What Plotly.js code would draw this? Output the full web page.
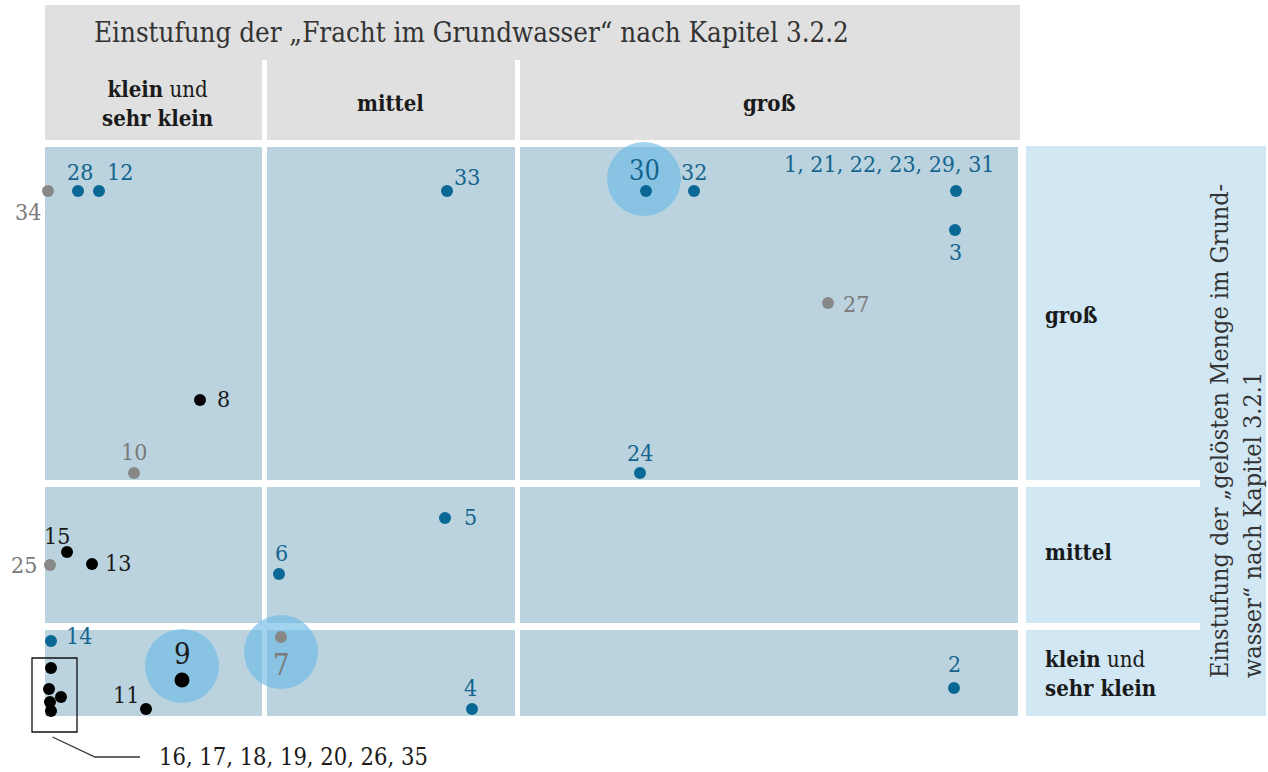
<!DOCTYPE html>
<html><head><meta charset="utf-8">
<script src="https://cdn.plot.ly/plotly-3.0.1.min.js"></script>
<style>html,body{margin:0;padding:0;background:#fff}</style>
</head><body><div id="chart" style="width:1268px;height:772px"></div>
<script>
// ---------- DATA ----------
const headerTitle = 'Einstufung der „Fracht im Grundwasser“ nach Kapitel 3.2.2';
const sideTitle = 'Einstufung der „gelösten Menge im Grund-<br>wasser“ nach Kapitel 3.2.1';
const columnCategories = ['<b>klein</b> und<br><b>sehr klein</b>', '<b>mittel</b>', '<b>groß</b>'];
const rowCategories = ['<b>groß</b>', '<b>mittel</b>', '<b>klein</b> und<br><b>sehr klein</b>'];

// point labels, x = "Fracht" score, y = "gelöste Menge" score (chart units, y grows downward)
const pointLabels = ['34','28','12','33','30','32','1, 21, 22, 23, 29, 31','3','27','8','10','24',
                     '5','15','13','25','6','14','9','7','11','4','2'];
const frachtScore = [48, 78, 99, 447, 646, 694, 956, 955, 828, 200, 134, 640,
                     445, 67, 92, 50, 279, 51, 182, 281, 146, 472, 954];
const mengeScore  = [191, 191, 191, 191, 191, 191, 191, 230, 303, 400, 473, 473,
                     518, 552, 564, 565, 574, 641, 680, 637, 709, 709, 688];
const pointGroup  = ['grau','blau','blau','blau','blau','blau','blau','blau','grau','schwarz','grau','blau',
                     'blau','schwarz','schwarz','grau','blau','blau','schwarz','grau','schwarz','blau','blau'];

// cluster of points 16, 17, 18, 19, 20, 26, 35
const clusterLabel = '16, 17, 18, 19, 20, 26, 35';
const clusterFracht = [51, 49, 61, 50, 51];
const clusterMenge  = [668, 689, 697, 702, 711];

const highlighted = ['30', '9', '7'];

// ---------- STYLE ----------
const SERIF = '"DejaVu Serif Condensed", "Liberation Serif", serif';
const groupColor = {blau: '#0a6894', grau: '#888888', schwarz: '#000000'};
const labelColor = {blau: '#14648d', grau: '#7a7a7a', schwarz: '#1a1a1a'};
// label offsets in pixels [dx, dy] (dy downward)
const labelOffset = {
  '34':[-20,21],'28':[2,-19],'12':[21,-19],'33':[20,-14],'30':[-2,-21],'32':[0,-19],
  '1, 21, 22, 23, 29, 31':[-67,-27],'3':[0,22],'27':[28,1],'8':[23,-1],'10':[0,-21],'24':[0,-20],
  '5':[25,-1],'15':[-10,-16],'13':[26,-1],'25':[-26,0],'6':[2,-21],'14':[28,-5],'9':[0,-26],
  '7':[0,28],'11':[-20,-14],'4':[-2,-21],'2':[0,-24]
};
const haloOffset = {'30':[-2,-12],'9':[0,-14],'7':[0,15]};
const bigLabel = {'30':27,'9':29,'7':29};

// ---------- TRACES ----------
const haloX = [], haloY = [];
highlighted.forEach(h => {
  const i = pointLabels.indexOf(h);
  haloX.push(frachtScore[i] + haloOffset[h][0]);
  haloY.push(mengeScore[i] + haloOffset[h][1]);
});
const traces = [];
traces.push({type:'scatter', mode:'markers', x:haloX, y:haloY, hoverinfo:'skip',
  marker:{size:74, color:'rgba(105,185,230,0.62)', opacity:1, line:{width:0}}});
['blau','grau','schwarz'].forEach(g => {
  const xs=[], ys=[], sz=[];
  pointLabels.forEach((l,i) => { if (pointGroup[i]===g){ xs.push(frachtScore[i]); ys.push(mengeScore[i]); sz.push(l==='9'?15:12);} });
  if (g==='schwarz') { clusterFracht.forEach((v,i)=>{xs.push(v); ys.push(clusterMenge[i]); sz.push(12);}); }
  traces.push({type:'scatter', mode:'markers', x:xs, y:ys, hoverinfo:'skip',
    marker:{size:sz, color:groupColor[g], opacity:1, line:{width:0}}});
});

// ---------- ANNOTATIONS ----------
const ann = [];
pointLabels.forEach((l,i) => {
  const off = labelOffset[l];
  ann.push({x:frachtScore[i], y:mengeScore[i], xref:'x', yref:'y', text:l, showarrow:false,
    xshift:off[0], yshift:-off[1], xanchor:'center', yanchor:'middle',
    font:{family:SERIF, size: bigLabel[l] || 23, color: labelColor[pointGroup[i]]}});
});
ann.push({x:92, y:32, xref:'x', yref:'y', text:headerTitle, showarrow:false, xanchor:'left', yanchor:'middle',
  font:{family:SERIF, size:27.5, color:'#333'}});
const colCenters = [157, 390, 769];
columnCategories.forEach((c,i)=> ann.push({x:colCenters[i], y:103, xref:'x', yref:'y', text:c, showarrow:false,
  xanchor:'center', yanchor:'middle', font:{family:SERIF, size:22, color:'#1a1a1a'}}));
const rowCenters = [315, 552, 673];
rowCategories.forEach((c,i)=> ann.push({x:1043, y:rowCenters[i], xref:'x', yref:'y', text:c, showarrow:false,
  xanchor:'left', yanchor:'middle', align:'left', font:{family:SERIF, size:22, color:'#1a1a1a'}}));
ann.push({x:1236, y:431, xref:'x', yref:'y', text:sideTitle, showarrow:false, textangle:-90, align:'left',
  xanchor:'center', yanchor:'middle', font:{family:SERIF, size:25, color:'#333'}});
ann.push({x:157, y:757, xref:'x', yref:'y', text:clusterLabel, showarrow:false, xanchor:'left', yanchor:'middle',
  font:{family:SERIF, size:23.5, color:'#1a1a1a'}});

// ---------- SHAPES ----------
const cx0 = Math.min(...clusterFracht) - 17, cx1 = Math.max(...clusterFracht) + 16;
const cy0 = Math.min(...clusterMenge) - 10, cy1 = Math.max(...clusterMenge) + 21;
const shapes = [
  {type:'rect', x0:45, x1:1020, y0:5, y1:140, fillcolor:'#e0e0e0', line:{width:0}, layer:'below'},
  {type:'rect', x0:45, x1:1018, y0:147, y1:716, fillcolor:'#bad3df', line:{width:0}, layer:'below'},
  {type:'rect', x0:1026, x1:1266, y0:146, y1:716, fillcolor:'#d1e7f3', line:{width:0}, layer:'below'},
  {type:'rect', x0:262, x1:267, y0:60, y1:718, fillcolor:'#ffffff', line:{width:0}, layer:'below'},
  {type:'rect', x0:515, x1:520, y0:60, y1:718, fillcolor:'#ffffff', line:{width:0}, layer:'below'},
  {type:'rect', x0:45, x1:1200, y0:480, y1:487, fillcolor:'#ffffff', line:{width:0}, layer:'below'},
  {type:'rect', x0:45, x1:1200, y0:623, y1:630, fillcolor:'#ffffff', line:{width:0}, layer:'below'},
  {type:'rect', x0:cx0, x1:cx1, y0:cy0, y1:cy1, line:{color:'#111', width:1.3}, fillcolor:'rgba(0,0,0,0)', layer:'above'},
  {type:'path', path:`M ${(cx0+cx1)/2-2} ${cy1+5} L 95 757 L 140 757`, line:{color:'#333', width:1.3}, layer:'above'}
];

const layout = {
  width:1268, height:772, margin:{l:0,r:0,t:0,b:0}, showlegend:false,
  paper_bgcolor:'#ffffff', plot_bgcolor:'#ffffff',
  xaxis:{range:[0,1268], visible:false, fixedrange:true},
  yaxis:{range:[772,0], visible:false, fixedrange:true},
  shapes:shapes, annotations:ann
};
Plotly.newPlot('chart', traces, layout, {displayModeBar:false, staticPlot:true});
</script></body></html>
